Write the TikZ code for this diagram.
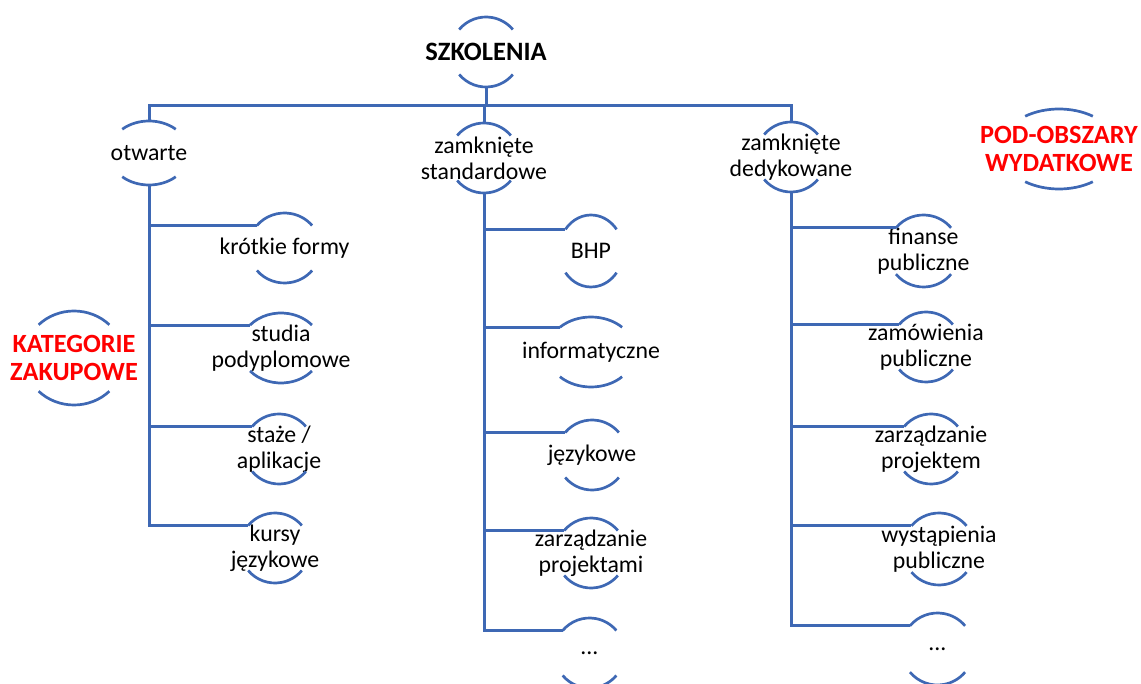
\documentclass[tikz,border=0pt]{standalone}
\usepackage{fontspec}
\setmainfont{Carlito}
\definecolor{lnblue}{RGB}{62,104,180}
\definecolor{catred}{RGB}{255,0,0}
\tikzset{
  ln/.style={draw=lnblue, line width=3pt},
  arcln/.style={draw=lnblue, line width=2.7pt},
  txt/.style={align=center, inner sep=0pt, font=\fontsize{23.8}{26}\selectfont},
  boldtxt/.style={align=center, inner sep=0pt, font=\fontsize{26.5}{28}\selectfont\bfseries},
  redtxt/.style={align=center, inner sep=0pt, text=catred, font=\fontsize{26.3}{28.5}\selectfont\bfseries}
}

\begin{document}
\begin{tikzpicture}[x=1pt,y=1pt]
	\path[use as bounding box] (0,0) rectangle (1141,-684);
	\clip (0,0) rectangle (1141,-684);
	% korzen i poziom 1
	\node[boldtxt] (szk) at (486,-52) {SZKOLENIA};
	\node[txt] (otw) at (149,-153) {otwarte};
	\node[txt] (zst) at (484,-158) {zamknięte\\standardowe};
	\node[txt] (zded) at (791,-157) {zamknięte\\dedykowane};
	% otwarte
	\node[txt] (kf) at (284.5,-248) {krótkie formy};
	\node[txt] (sp) at (281,-348) {studia\\podyplomowe};
	\node[txt] (sa) at (279,-449) {staże /\\aplikacje};
	\node[txt] (kj) at (275,-548) {kursy\\językowe};
	% zamkniete standardowe
	\node[txt] (bhp) at (591,-251) {BHP};
	\node[txt] (inf) at (591,-352) {informatyczne};
	\node[txt] (jez) at (592,-455) {językowe};
	\node[txt] (zpr) at (591,-553) {zarządzanie\\projektami};
	\node[txt] (d1) at (589.5,-653) {...};
	% zamkniete dedykowane
	\node[txt] (fin) at (923.5,-251) {finanse\\publiczne};
	\node[txt] (zam) at (926,-347) {zamówienia\\publiczne};
	\node[txt] (zpm) at (931,-449) {zarządzanie\\projektem};
	\node[txt] (wp) at (939,-549) {wystąpienia\\publiczne};
	\node[txt] (d2) at (937.5,-649) {...};
	% opisy
	\node[redtxt] (kat) at (74,-358) {KATEGORIE\\ZAKUPOWE};
	\node[redtxt] (pod) at (1059,-149) {POD-OBSZARY\\WYDATKOWE};
	% luki nad i pod tekstem
	\foreach \nm/\rx/\ry/\ang in {szk/35/35/40, otw/40/32/48, zst/35/35/40, zded/35/35/40,
		kf/36/35/40, sp/41/35/41, sa/35/35/40, kj/35/35/40,
		bhp/32/36/37, inf/44/35/45, jez/35/35/40, zpr/35/35/40, d1/35/35/40,
		fin/36/36/40, zam/35/35/40, zpm/35/35/40, wp/36/36/40, d2/36/36/40,
		kat/50/47/45, pod/59/40/55}{
		\draw[arcln] ([shift={(180-\ang:\rx pt and \ry pt)}]\nm.center)
			arc[start angle=180-\ang, end angle=\ang, x radius=\rx pt, y radius=\ry pt];
		\draw[arcln] ([shift={(180+\ang:\rx pt and \ry pt)}]\nm.center)
			arc[start angle=180+\ang, end angle=360-\ang, x radius=\rx pt, y radius=\ry pt];
		\coordinate (\nm-tl) at ([shift={(180-\ang:\rx pt and \ry pt)}]\nm.center);
		\coordinate (\nm-t) at ([yshift=\ry pt]\nm.center);
		\coordinate (\nm-b) at ([yshift=-\ry pt]\nm.center);
	}
	% polaczenia
	\coordinate (bar) at (486,-106);
	\draw[ln] (szk-b) -- (bar);
	\draw[ln] (otw-t) |- (bar) -| (zded-t);
	\draw[ln] (zst-t) |- (bar);
	\foreach \ch in {kf,sp,sa,kj} \draw[ln] (otw-b) |- (\ch-tl);
	\foreach \ch in {bhp,inf,jez,zpr,d1} \draw[ln] (zst-b) |- (\ch-tl);
	\foreach \ch in {fin,zam,zpm,wp,d2} \draw[ln] (zded-b) |- (\ch-tl);
\end{tikzpicture}
\end{document}
